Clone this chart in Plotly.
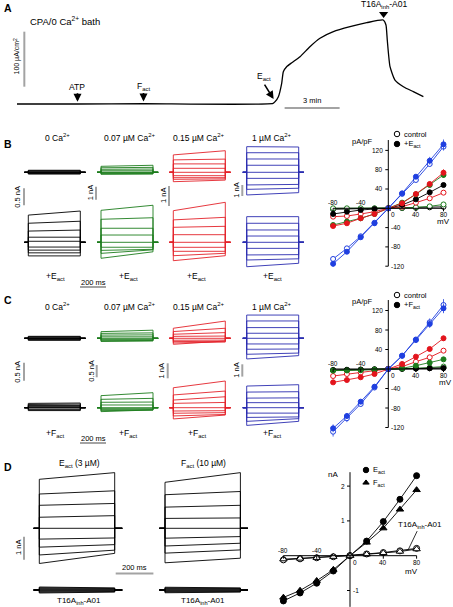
import numpy as np
import plotly.graph_objects as go

W, H = 453, 607
FONT = "Liberation Sans, Arial, Helvetica, sans-serif"
GRAY = "#a3a3a3"

# ---------------- DATA ----------------
# Panel A: short-circuit current time course
a_time_min = [0.0, 3.3, 6.9, 13.97, 14.08, 14.26, 14.44, 14.53, 14.71, 14.99, 15.44, 15.98,
              16.53, 17.26, 18.17, 19.08, 19.98, 20.13, 20.2, 20.35, 20.62, 21.08, 21.62, 22.17]
a_current = [0, 0, 0.5, 1, 4.2, 13.3, 37.6, 58.7, 67.8, 75.1, 86, 104.2,
             119.5, 131.5, 140.5, 147.8, 152.7, 143.6, 116.4, 67.8, 43.6, 31.5, 22.4, 13.3]
a_event_labels = ["ATP", "F<sub>act</sub>", "E<sub>act</sub>", "T16A<sub>inh</sub>-A01"]
a_event_time = [3.3, 6.9, 14.0, 20.0]

# Voltage protocol
step_mV = [80, 60, 40, 20, 0, -20, -40, -60, -80]
pulse_ms = 400
ca_labels = ["0 Ca<sup>2+</sup>", "0.07 µM Ca<sup>2+</sup>", "0.15 µM Ca<sup>2+</sup>", "1 µM Ca<sup>2+</sup>"]

# Panel B whole-cell currents (nA) at pulse start / end, per Ca level
b_ctrl_start = [[0.06, 0.045, 0.03, 0.015, 0, -0.015, -0.03, -0.04, -0.05],
                [0.46, 0.35, 0.23, 0.12, 0, -0.04, -0.08, -0.12, -0.15],
                [0.87, 0.62, 0.42, 0.2, 0, -0.17, -0.27, -0.35, -0.47],
                [2.33, 1.78, 1.21, 0.64, 0, -0.55, -1.15, -1.55, -2.06]]
b_ctrl_end = [[0.06, 0.045, 0.03, 0.015, 0, -0.015, -0.03, -0.04, -0.05],
              [0.54, 0.38, 0.25, 0.12, 0, -0.04, -0.08, -0.11, -0.13],
              [1.08, 0.66, 0.42, 0.2, 0, -0.17, -0.27, -0.33, -0.39],
              [2.3, 1.78, 1.21, 0.64, 0, -0.55, -1.1, -1.45, -1.85]]
b_eact_start = [[0.80, 0.56, 0.33, 0.15, 0.03, -0.14, -0.23, -0.31, -0.40],
                [2.46, 1.77, 1.08, 0.56, 0, -0.38, -0.62, -0.85, -1.23],
                [1.58, 1.12, 0.75, 0.38, 0, -0.25, -0.45, -0.67, -0.92],
                [2.33, 1.73, 1.12, 0.57, 0, -0.55, -1.15, -1.61, -2.22]]
b_eact_end = [[0.92, 0.62, 0.36, 0.15, 0.03, -0.14, -0.23, -0.31, -0.40],
              [2.85, 1.89, 1.08, 0.56, 0, -0.38, -0.54, -0.58, -0.73],
              [2.0, 1.25, 0.8, 0.38, 0, -0.25, -0.45, -0.55, -0.67],
              [2.33, 1.73, 1.12, 0.57, 0, -0.55, -1.12, -1.5, -1.91]]
b_scale_nA = [0.5, 1, 1, 1]

# Panel C whole-cell currents (nA)
c_ctrl_start = [[0.055, 0.04, 0.03, 0.015, 0, -0.015, -0.03, -0.045, -0.055],
                [0.27, 0.2, 0.13, 0.06, 0, -0.04, -0.07, -0.1, -0.13],
                [0.67, 0.45, 0.27, 0.13, 0, -0.13, -0.22, -0.31, -0.4],
                [1.89, 1.41, 0.87, 0.41, 0, -0.46, -0.89, -1.3, -1.68]]
c_ctrl_end = [[0.055, 0.04, 0.03, 0.015, 0, -0.015, -0.03, -0.045, -0.055],
              [0.33, 0.22, 0.14, 0.06, 0, -0.04, -0.07, -0.09, -0.11],
              [1.15, 0.67, 0.38, 0.15, 0, -0.12, -0.2, -0.25, -0.18],
              [1.89, 1.41, 0.87, 0.41, 0, -0.46, -0.87, -1.2, -1.41]]
c_fact_start = [[0.12, 0.09, 0.06, 0.03, 0, -0.02, -0.04, -0.06, -0.08],
                [0.49, 0.34, 0.22, 0.11, 0, -0.04, -0.08, -0.12, -0.16],
                [1.33, 0.85, 0.51, 0.29, 0, -0.22, -0.37, -0.55, -0.75],
                [1.76, 1.27, 0.78, 0.41, 0, -0.44, -0.79, -1.11, -1.44]]
c_fact_end = [[0.13, 0.1, 0.06, 0.03, 0, -0.02, -0.04, -0.06, -0.08],
              [0.61, 0.38, 0.23, 0.11, 0, -0.04, -0.08, -0.1, -0.09],
              [1.78, 1.11, 0.73, 0.35, 0, -0.2, -0.33, -0.45, -0.49],
              [1.87, 1.3, 0.8, 0.41, 0, -0.44, -0.75, -0.89, -1.11]]
c_scale_nA = [0.5, 0.5, 1, 1]

# Panel D currents (nA): E_act, F_act, and after T16Ainh-A01
d_act_start = [[2.13, 1.49, 1.0, 0.48, 0, -0.47, -0.82, -1.16, -1.53],
               [2.0, 1.46, 0.92, 0.43, 0, -0.43, -0.77, -1.08, -1.5]]
d_act_end = [[2.42, 1.63, 1.08, 0.55, 0, -0.42, -0.71, -0.95, -1.09],
             [2.42, 1.6, 1.0, 0.45, 0, -0.36, -0.65, -0.94, -1.3]]
d_inh_start = [[0.13, 0.1, 0.06, 0.03, 0, -0.03, -0.06, -0.1, -0.13],
               [0.12, 0.09, 0.06, 0.03, 0, -0.03, -0.06, -0.09, -0.12]]
d_inh_end = [[0.09, 0.07, 0.05, 0.02, 0, -0.02, -0.05, -0.07, -0.09],
             [0.09, 0.07, 0.05, 0.02, 0, -0.02, -0.05, -0.07, -0.09]]
d_titles = ["E<sub>act</sub> (3 µM)", "F<sub>act</sub> (10 µM)"]

# I-V data
iv_mV = [-80, -60, -40, -20, 0, 20, 40, 60, 80]
b_iv_ctrl = [[-2, -1.5, -1, -0.5, 0, 0.5, 1, 2, 3],
             [0, 0, 0, 0, 0, 1, 2, 4, 8],
             [-17.3, -16, -11.8, -7, 0, 3.4, 11.7, 20.7, 32.4],
             [-105, -83, -58, -30, 0, 30, 58.7, 91.8, 127.7]]
b_iv_eact = [[-11.8, -7, -3.5, -1.5, 0, 6.9, 18.6, 33.1, 48.3],
             [-34.6, -27.6, -20.7, -11.8, 0, 11.7, 29, 48.3, 69],
             [-36.7, -31, -20.7, -11.8, 0, 10.4, 29.6, 50.4, 73.8],
             [-115, -90, -60, -31, 0, 31, 65.5, 98.6, 132.6]]
b_iv_ctrl_err = [None, None, None, [5, 4, 3, 2, 0, 2, 3, 5, 8]]
b_iv_eact_err = [None, [3, 2, 2, 1, 0, 1, 2, 4, 6], [4, 3, 2, 1, 0, 1, 3, 5, 7], [6, 4, 3, 2, 0, 2, 4, 8, 10]]
c_iv_ctrl = [[-2, -1.5, -1, -0.5, 0, 0.5, 1, 1.5, 2],
             [-3, -2.5, -2, -1, 0, 0.5, 1.5, 3, 5],
             [-14.4, -10.3, -7.5, -3.4, 0, 4.8, 15, 24, 37.6],
             [-128.6, -101, -71.8, -38, 0, 27, 60.5, 95.8, 131.3]]
c_iv_fact = [[-2.5, -2, -1.5, -1, 0, 0.5, 1, 1.5, 2],
             [-3.4, -3, -2.5, -1.5, 0, 1.4, 6.8, 13, 19.8],
             [-27.4, -22.6, -17, -10.3, 0, 10.3, 25.3, 41, 63],
             [-121.7, -96.4, -67, -36.3, 0, 27.4, 59.5, 92.3, 124.5]]
c_iv_ctrl_err = [None, None, [2, 2, 1, 1, 0, 1, 2, 3, 4], [10, 8, 5, 3, 0, 3, 5, 8, 12]]
c_iv_fact_err = [None, None, [3, 2, 2, 1, 0, 1, 2, 3, 5], [8, 6, 4, 3, 0, 3, 5, 8, 10]]
d_iv_eact = [-1.3, -1.07, -0.79, -0.44, 0, 0.42, 0.98, 1.62, 2.3]
d_iv_fact = [-1.2, -1.0, -0.72, -0.4, 0, 0.38, 0.79, 1.33, 1.89]
d_iv_eact_inh = [-0.12, -0.09, -0.06, -0.03, 0, 0.05, 0.09, 0.14, 0.21]
d_iv_fact_inh = [-0.1, -0.08, -0.06, -0.03, 0, 0.04, 0.08, 0.12, 0.19]

iv_xticks = [-80, -40, 0, 40, 80]
bc_iv_yticks = [-120, -80, -40, 40, 80, 120]
d_iv_yticks = [-1, 1, 2]

# ---------------- STYLE / LAYOUT ----------------
trace_colors = ["#000000", "#1d7d1d", "#e3222a", "#2b2db0"]
iv_colors = ["#000000", "#1d7d1d", "#e3141c", "#1f3fe0"]

fig = go.Figure()
axes_layout = {}
shapes = []
annotations = []
_n = [0]


def make_axes(xdom, ydom, x0, ppx, y0, ppy):
    _n[0] += 1
    s = "" if _n[0] == 1 else str(_n[0])
    xr = [(xdom[0] - x0) / ppx, (xdom[1] - x0) / ppx]
    yr = [(y0 - ydom[1]) / ppy, (y0 - ydom[0]) / ppy]
    axes_layout["xaxis" + s] = dict(domain=[xdom[0] / W, xdom[1] / W], range=xr, visible=False,
                                    fixedrange=True, anchor="y" + s)
    axes_layout["yaxis" + s] = dict(domain=[1 - ydom[1] / H, 1 - ydom[0] / H], range=yr, visible=False,
                                    fixedrange=True, anchor="x" + s)
    return "x" + s, "y" + s


def txt(text, xpx, ypx, size=8.5, xanchor="center", yanchor="middle", angle=0, bold=False):
    annotations.append(dict(text="<b>%s</b>" % text if bold else text, x=xpx / W, y=1 - ypx / H,
                            xref="paper", yref="paper", xanchor=xanchor, yanchor=yanchor,
                            showarrow=False, textangle=angle,
                            font=dict(size=size, color="black", family=FONT)))


def pline(x0, y0, x1, y1, color=GRAY, width=2):
    shapes.append(dict(type="line", xref="paper", yref="paper", x0=x0 / W, x1=x1 / W,
                       y0=1 - y0 / H, y1=1 - y1 / H, line=dict(color=color, width=width)))


# pixel overlay axis (for legend symbols)
PX, PY = make_axes([0, W], [0, H], 0, 1, 0, -1)

# ---------------- Panel A ----------------
ax_a, ay_a = make_axes([0, W], [0, 130], 17, 18.33, 104, 0.55)
fig.add_trace(go.Scatter(x=a_time_min, y=a_current, mode="lines", xaxis=ax_a, yaxis=ay_a,
                         line=dict(color="black", width=1.3, shape="spline", smoothing=0.5),
                         hoverinfo="skip", showlegend=False))
for i, (lab, t) in enumerate(zip(a_event_labels, a_event_time)):
    yv = float(np.interp(t, a_time_min, a_current))
    if i < 2:
        annotations.append(dict(x=t, y=yv + 4, xref=ax_a, yref=ay_a, text="", showarrow=True,
                                ax=0, ay=-10, arrowhead=2, arrowsize=1, arrowwidth=1.6, arrowcolor="black"))
        annotations.append(dict(x=t, y=yv + 4, xref=ax_a, yref=ay_a, text=lab, showarrow=False,
                                yshift=15, font=dict(size=8.5, family=FONT, color="black")))
    elif i == 2:
        annotations.append(dict(x=t, y=yv + 7, xref=ax_a, yref=ay_a, text="", showarrow=True,
                                ax=-10, ay=-16, arrowhead=2, arrowsize=1, arrowwidth=1.6, arrowcolor="black"))
        annotations.append(dict(x=t, y=yv + 7, xref=ax_a, yref=ay_a, text=lab, showarrow=False,
                                xshift=-10, yshift=23, font=dict(size=8.5, family=FONT, color="black")))
    else:
        fig.add_trace(go.Scatter(x=[t], y=[max(a_current) + 11], mode="markers", xaxis=ax_a, yaxis=ay_a,
                                 marker=dict(symbol="triangle-down", size=8, color="black"),
                                 hoverinfo="skip", showlegend=False, cliponaxis=False))
        annotations.append(dict(x=t, y=max(a_current) + 11, xref=ax_a, yref=ay_a, text=lab, showarrow=False,
                                yshift=9, font=dict(size=8.5, family=FONT, color="black")))
# A scale bars
shapes.append(dict(type="line", xref=ax_a, yref=ay_a, x0=14.6, x1=17.6, y0=-7.3, y1=-7.3,
                   line=dict(color=GRAY, width=2)))
annotations.append(dict(x=16.1, y=-7.3, xref=ax_a, yref=ay_a, text="3 min", showarrow=False,
                        yshift=8, font=dict(size=7.5, family=FONT, color="black")))
shapes.append(dict(type="line", xref=ax_a, yref=ay_a, x0=0.4, x1=0.4, y0=31.5, y1=131.5,
                   line=dict(color=GRAY, width=2)))
txt("100 µA/cm<sup>2</sup>", 17.5, 56, size=7, angle=-90)
txt("CPA/0 Ca<sup>2+</sup> bath", 27.5, 21, size=9.5, xanchor="left")
txt("A", 2, 8, size=10.5, xanchor="left", bold=True)

# ---------------- current families ----------------
pre_ms, post_ms = 30, 40


def add_family(starts, ends, xs, hy, ms_per_px, px_per_nA, color, width=0.9):
    xdom = [xs - 10, xs + (pulse_ms + post_ms) / ms_per_px + 10]
    ydom = [max(0, hy - 65), min(H, hy + 65)]
    xa, ya = make_axes(xdom, ydom, xs, 1 / ms_per_px, hy, px_per_nA)
    X, Y = [], []
    for s, e in zip(starts, ends):
        X += [-pre_ms, 0, 0, pulse_ms, pulse_ms, pulse_ms + post_ms, None]
        Y += [0, 0, s, e, 0, 0, None]
    fig.add_trace(go.Scatter(x=X, y=Y, mode="lines", xaxis=xa, yaxis=ya,
                             line=dict(color=color, width=width), hoverinfo="skip", showlegend=False))


col_x = [28.3, 101.0, 173.3, 246.7]
title_x = [58, 129, 198, 272]
sub_x = [55, 128.3, 196.5, 272]
bc_ms_per_px = 200 / 26.0

# Panel B
b_px_per_nA = [34, 13, 20, 11]
b_bar_x = [24, 96, 169, 242.3]
b_bar_top = [188.3, 186.7, 186, 185]
for k in range(4):
    add_family(b_ctrl_start[k], b_ctrl_end[k], col_x[k], 172.3, bc_ms_per_px, b_px_per_nA[k], trace_colors[k])
    add_family(b_eact_start[k], b_eact_end[k], col_x[k], 242.3, bc_ms_per_px, b_px_per_nA[k], trace_colors[k])
    L = b_scale_nA[k] * b_px_per_nA[k]
    pline(b_bar_x[k], b_bar_top[k], b_bar_x[k], b_bar_top[k] + L)
    txt(("%g nA" % b_scale_nA[k]), b_bar_x[k] - 6, b_bar_top[k] + L / 2, size=7.5, angle=-90)
    txt(ca_labels[k], title_x[k], 137, size=8.5)
    txt("+E<sub>act</sub>", sub_x[k], 276.5, size=8.5)
pline(80, 287, 80 + 200 / bc_ms_per_px, 287)
txt("200 ms", 93, 282, size=7.5)
txt("B", 2, 143.5, size=10.5, xanchor="left", bold=True)

# Panel C
c_px_per_nA = [36, 24.6, 15, 12.3]
c_bar_x = [24, 96.7, 167.7, 242.3]
c_bar_top = [362.7, 365, 363.3, 364.3]
for k in range(4):
    add_family(c_ctrl_start[k], c_ctrl_end[k], col_x[k], 338.3, bc_ms_per_px, c_px_per_nA[k], trace_colors[k])
    add_family(c_fact_start[k], c_fact_end[k], col_x[k], 407.7, bc_ms_per_px, c_px_per_nA[k], trace_colors[k])
    L = c_scale_nA[k] * c_px_per_nA[k]
    pline(c_bar_x[k], c_bar_top[k], c_bar_x[k], c_bar_top[k] + L)
    txt(("%g nA" % c_scale_nA[k]), c_bar_x[k] - 6, c_bar_top[k] + L / 2, size=7.5, angle=-90)
    txt(ca_labels[k], title_x[k], 306, size=8.5)
    txt("+F<sub>act</sub>", sub_x[k], 433.5, size=8.5)
pline(80, 443, 80 + 200 / bc_ms_per_px, 443)
txt("200 ms", 93, 438.5, size=7.5)
txt("C", 2, 300, size=10.5, xanchor="left", bold=True)

# Panel D traces
d_ms_per_px = 200 / 37.7
d_px_per_nA = 23
d_col_x = [39.3, 165.0]
d_label_x = [79, 203]
for k in range(2):
    add_family(d_act_start[k], d_act_end[k], d_col_x[k], 528.3, d_ms_per_px, d_px_per_nA, "black")
    add_family(d_inh_start[k], d_inh_end[k], d_col_x[k], 590, d_ms_per_px, d_px_per_nA, "black")
    txt(d_titles[k], d_label_x[k], 463.5, size=8.5)
    txt("T16A<sub>inh</sub>-A01", d_label_x[k], 600.5, size=8)
pline(24, 536.7, 24, 536.7 + 1 * d_px_per_nA)
txt("1 nA", 18, 548, size=7.5, angle=-90)
pline(115.7, 573.5, 115.7 + 200 / d_ms_per_px, 573.5)
txt("200 ms", 134, 567.5, size=7.5)
txt("D", 2, 467, size=10.5, xanchor="left", bold=True)


# ---------------- I-V plots ----------------
def add_iv(xa, ya, y, color, filled, symbol="circle", err=None, size=5):
    fig.add_trace(go.Scatter(
        x=iv_mV, y=y, mode="lines+markers", xaxis=xa, yaxis=ya,
        line=dict(color=color, width=0.9),
        marker=dict(symbol=symbol, size=size, color=color if filled else "white",
                    line=dict(color=color, width=1)),
        error_y=dict(type="data", array=err if err else [0] * len(y), visible=bool(err),
                     color=color, thickness=0.8, width=0),
        cliponaxis=False, showlegend=False, hoverinfo="skip"))


def iv_axes(xa, ya, yticks, ymin, ymax, ppx, ppy, tick_size=6.5):
    lc = dict(color="black", width=1)
    shapes.append(dict(type="line", xref=xa, yref=ya, x0=min(iv_xticks), x1=max(iv_xticks), y0=0, y1=0, line=lc))
    shapes.append(dict(type="line", xref=xa, yref=ya, x0=0, x1=0, y0=ymin, y1=ymax, line=lc))
    for v in yticks:
        shapes.append(dict(type="line", xref=xa, yref=ya, x0=-3 / ppx, x1=0, y0=v, y1=v, line=lc))
        if v > 0:
            annotations.append(dict(x=0, y=v, xref=xa, yref=ya, text=str(v), showarrow=False,
                                    xanchor="right", xshift=-3, font=dict(size=tick_size, family=FONT)))
        else:
            annotations.append(dict(x=0, y=v, xref=xa, yref=ya, text=str(v), showarrow=False,
                                    xanchor="left", xshift=1, font=dict(size=tick_size, family=FONT)))
    for v in iv_xticks:
        if v != 0:
            shapes.append(dict(type="line", xref=xa, yref=ya, x0=v, x1=v, y0=0, y1=-3 / ppy, line=lc))
        if v < 0:
            annotations.append(dict(x=v, y=0, xref=xa, yref=ya, text=str(v), showarrow=False,
                                    yanchor="bottom", yshift=0, font=dict(size=tick_size, family=FONT)))
        elif v == 0:
            annotations.append(dict(x=v, y=0, xref=xa, yref=ya, text=str(v), showarrow=False,
                                    yanchor="top", xanchor="left", xshift=1, yshift=-1,
                                    font=dict(size=tick_size, family=FONT)))
        else:
            annotations.append(dict(x=v, y=0, xref=xa, yref=ya, text=str(v), showarrow=False,
                                    yanchor="top", yshift=-1, font=dict(size=tick_size, family=FONT)))


def legend_item(xpx, ypx, label, symbol, filled):
    fig.add_trace(go.Scatter(x=[xpx], y=[ypx], mode="markers", xaxis=PX, yaxis=PY,
                             marker=dict(symbol=symbol, size=5.5, color="black" if filled else "white",
                                         line=dict(color="black", width=1)),
                             hoverinfo="skip", showlegend=False, cliponaxis=False))
    txt(label, xpx + 5, ypx, size=7.5, xanchor="left")


# B I-V
bx, by = make_axes([318, W], [128, 290], 388.3, 0.69, 208.3, 0.4825)
iv_axes(bx, by, bc_iv_yticks, -120, 141.5, 0.69, 0.4825)
for k in range(4):
    add_iv(bx, by, b_iv_ctrl[k], iv_colors[k], False, err=b_iv_ctrl_err[k])
for k in range(4):
    add_iv(bx, by, b_iv_eact[k], iv_colors[k], True, err=b_iv_eact_err[k])
txt("pA/pF", 362, 141, size=7.5)
txt("mV", 443, 222, size=8)
legend_item(397, 134, "control", "circle", False)
legend_item(397, 144, "+E<sub>act</sub>", "circle", True)

# C I-V
cx, cy = make_axes([318, W], [290, 452], 388.3, 0.69, 369, 0.4875)
iv_axes(cx, cy, bc_iv_yticks, -120, 141.5, 0.69, 0.4875)
for k in range(4):
    add_iv(cx, cy, c_iv_ctrl[k], iv_colors[k], False, err=c_iv_ctrl_err[k])
for k in range(4):
    add_iv(cx, cy, c_iv_fact[k], iv_colors[k], True, err=c_iv_fact_err[k])
txt("pA/pF", 362, 301, size=7.5)
txt("mV", 445, 382, size=8)
legend_item(397, 295, "control", "circle", False)
legend_item(397, 305, "+F<sub>act</sub>", "circle", True)

# D I-V
dx, dy = make_axes([266, W], [460, H], 350, 0.8325, 555.7, 34.8)
iv_axes(dx, dy, d_iv_yticks, -1.47, 2.4, 0.8325, 34.8)
add_iv(dx, dy, d_iv_eact, "black", True, "circle", size=6)
add_iv(dx, dy, d_iv_fact, "black", True, "triangle-up", size=6.5)
add_iv(dx, dy, d_iv_eact_inh, "black", False, "circle", size=6)
add_iv(dx, dy, d_iv_fact_inh, "black", False, "triangle-up", size=6.5)
txt("nA", 333, 474, size=8)
txt("mV", 411, 571, size=8)
legend_item(366, 470, "E<sub>act</sub>", "circle", True)
legend_item(366, 482.7, "F<sub>act</sub>", "triangle-up", True)
annotations.append(dict(x=70, y=(d_iv_eact_inh[7] + d_iv_eact_inh[8]) / 2, xref=dx, yref=dy,
                        text="T16A<sub>inh</sub>-A01", showarrow=True, arrowhead=0, arrowwidth=0.8,
                        arrowcolor="black", ax=12, ay=-25, font=dict(size=8, family=FONT, color="black")))

fig.update_layout(width=W, height=H, autosize=False, margin=dict(l=0, r=0, t=0, b=0),
                  paper_bgcolor="white", plot_bgcolor="rgba(0,0,0,0)",
                  font=dict(family=FONT, color="black"), showlegend=False,
                  shapes=shapes, annotations=annotations, **axes_layout)
fig.write_html("out.html", config={"displayModeBar": False},
               post_script="document.body.style.margin='0px';document.body.style.padding='0px';")
